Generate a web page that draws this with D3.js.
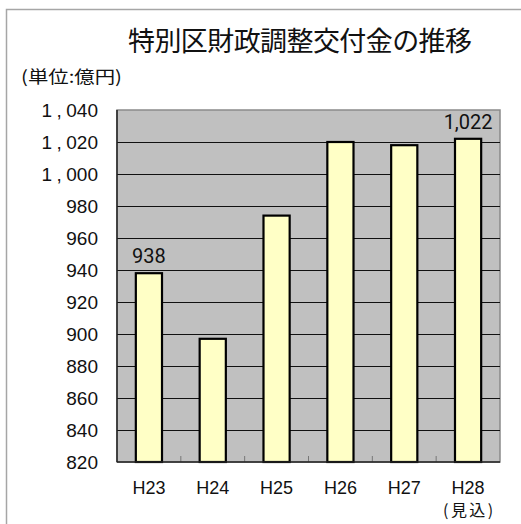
<!DOCTYPE html>
<html>
<head>
<meta charset="utf-8">
<script src="https://cdn.jsdelivr.net/npm/d3@7/dist/d3.min.js"></script>
<style>
  html, body { margin: 0; padding: 0; background: #fff; }
  svg { display: block; }
</style>
</head>
<body>
<svg id="chart" width="521" height="524"></svg>
<script>
// 特別区財政調整交付金（億円）
const years = ["H23", "H24", "H25", "H26", "H27", "H28"];
const subLabels = ["", "", "", "", "", "(見込)"];
const amounts = [938, 897, 974, 1020, 1018, 1022];
const labelledYears = ["H23", "H28"];
const yTicks = [820, 840, 860, 880, 900, 920, 940, 960, 980, 1000, 1020, 1040];

const titleText = "特別区財政調整交付金の推移";
const unitText = "(単位:億円)";

const svg = d3.select("#chart");
const plot = { left: 117, right: 500, top: 110, bottom: 462 };
const latin = "'Liberation Sans', Arial, sans-serif";
const cjk = "'Noto Sans CJK JP', sans-serif";

// outer frame
svg.append("rect")
  .attr("x", 6.5).attr("y", 9.5)
  .attr("width", 560).attr("height", 560)
  .attr("fill", "#fff").attr("stroke", "#a6a6a6").attr("stroke-width", 1.5);

// title, fitted to a fixed span
svg.append("text")
  .attr("x", 128).attr("y", 51)
  .attr("font-family", cjk).attr("font-size", 27)
  .attr("textLength", 344).attr("lengthAdjust", "spacing")
  .attr("fill", "#111")
  .text(titleText);

svg.append("text")
  .attr("x", 21).attr("y", 83)
  .attr("font-family", cjk).attr("font-size", 17)
  .attr("textLength", 101).attr("lengthAdjust", "spacingAndGlyphs")
  .attr("fill", "#111")
  .text(unitText);

const x = d3.scaleBand()
  .domain(years)
  .range([plot.left, plot.right])
  .paddingInner(0.59)
  .paddingOuter(0.295);

const y = d3.scaleLinear()
  .domain([820, 1040])
  .range([plot.bottom, plot.top]);

// plot background
svg.append("rect")
  .attr("x", plot.left).attr("y", plot.top)
  .attr("width", plot.right - plot.left)
  .attr("height", plot.bottom - plot.top)
  .attr("fill", "#c0c0c0")
  .attr("stroke", "#8a8a8a").attr("stroke-width", 1.5);

// gridlines
svg.append("g")
  .selectAll("line")
  .data(yTicks.filter(t => t > 820 && t < 1040))
  .join("line")
  .attr("x1", plot.left).attr("x2", plot.right)
  .attr("y1", d => Math.round(y(d)) + 0.5)
  .attr("y2", d => Math.round(y(d)) + 0.5)
  .attr("stroke", "#111").attr("stroke-width", 1);

// bars
svg.append("g")
  .selectAll("rect")
  .data(years.map((yr, i) => ({ yr, v: amounts[i] })))
  .join("rect")
  .attr("x", d => x(d.yr))
  .attr("y", d => y(d.v))
  .attr("width", x.bandwidth())
  .attr("height", d => y(820) - y(d.v))
  .attr("fill", "#ffffc6")
  .attr("stroke", "#000").attr("stroke-width", 2.2);

// category boundary ticks
const bounds = years.slice(1).map(yr => x(yr) - x.step() * x.paddingInner() / 2);
svg.append("g")
  .selectAll("line")
  .data(bounds)
  .join("line")
  .attr("x1", d => d).attr("x2", d => d)
  .attr("y1", plot.bottom).attr("y2", plot.bottom - 6)
  .attr("stroke", "#777").attr("stroke-width", 1);

// axis lines
svg.append("line")
  .attr("x1", plot.left).attr("x2", plot.left)
  .attr("y1", plot.top).attr("y2", plot.bottom)
  .attr("stroke", "#222").attr("stroke-width", 1.5);
svg.append("line")
  .attr("x1", plot.left).attr("x2", plot.right)
  .attr("y1", plot.bottom).attr("y2", plot.bottom)
  .attr("stroke", "#222").attr("stroke-width", 1.5);

// y tick labels (wide-set thousands comma)
const yLab = svg.append("g")
  .selectAll("text")
  .data(yTicks)
  .join("text")
  .attr("x", 98)
  .attr("y", d => y(d) + 6.5)
  .attr("text-anchor", "end")
  .attr("font-family", latin).attr("font-size", 19)
  .attr("fill", "#111");
yLab.each(function(d) {
  const t = d3.select(this);
  const s = d3.format(",")(d);
  const parts = s.split(",");
  if (parts.length === 1) { t.text(s); return; }
  t.append("tspan").text(parts[0]);
  t.append("tspan").attr("dx", 4.5).text(",");
  t.append("tspan").attr("dx", 4.5).text(parts[1]);
});

// x tick labels
const xl = svg.append("g")
  .selectAll("g")
  .data(years.map((yr, i) => ({ yr, sub: subLabels[i] })))
  .join("g");
xl.append("text")
  .attr("x", d => x(d.yr) + x.bandwidth() / 2)
  .attr("y", 494)
  .attr("text-anchor", "middle")
  .attr("font-family", latin).attr("font-size", 18)
  .attr("fill", "#111")
  .text(d => d.yr);
xl.filter(d => d.sub)
  .append("text")
  .attr("x", d => x(d.yr) + x.bandwidth() / 2)
  .attr("y", 516)
  .attr("text-anchor", "middle")
  .attr("font-family", cjk).attr("font-size", 16)
  .attr("textLength", 50).attr("lengthAdjust", "spacing")
  .attr("fill", "#111")
  .text(d => d.sub);

// value labels
svg.append("g")
  .selectAll("text")
  .data(years.map((yr, i) => ({ yr, v: amounts[i] })).filter(d => labelledYears.includes(d.yr)))
  .join("text")
  .attr("x", d => x(d.yr) + x.bandwidth() / 2)
  .attr("y", d => y(d.v) - 10)
  .attr("text-anchor", "middle")
  .attr("font-family", "Roboto, 'Liberation Sans', sans-serif").attr("font-size", 20)
  .attr("fill", "#111")
  .text(d => d3.format(",")(d.v));
</script>
</body>
</html>
